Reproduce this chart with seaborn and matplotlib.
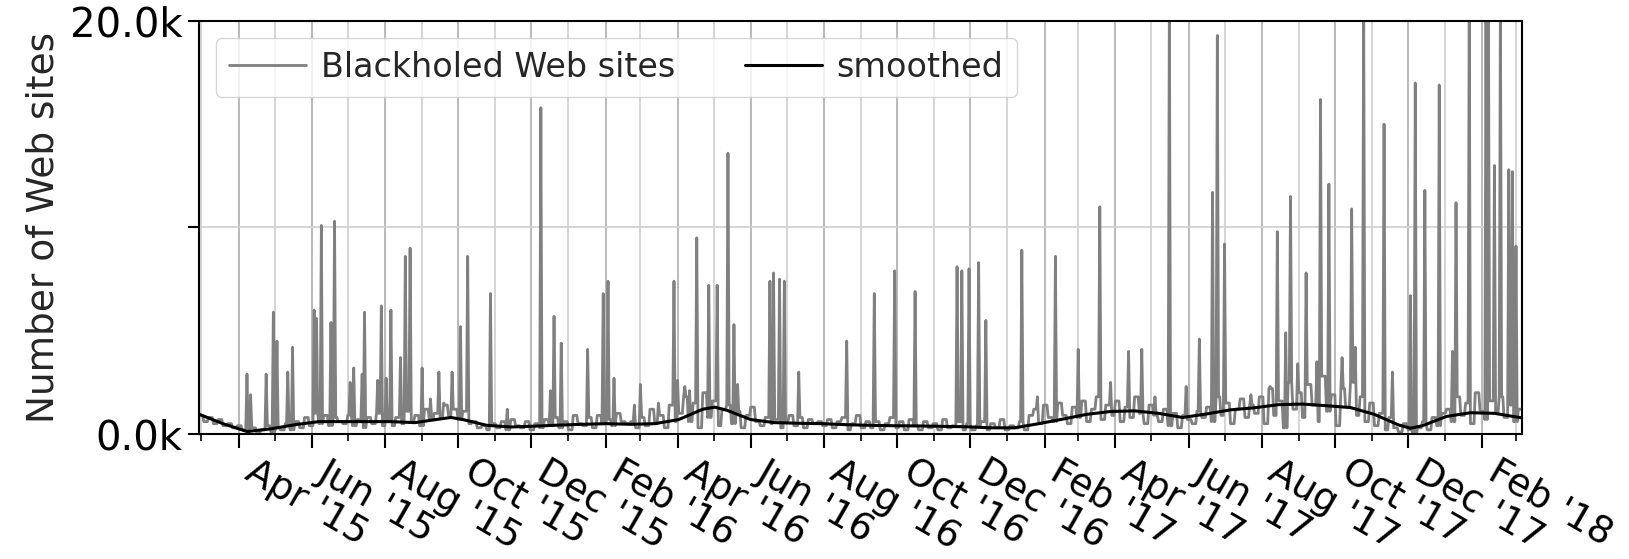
import numpy as np
import pandas as pd
import matplotlib
matplotlib.use("Agg")
import matplotlib.pyplot as plt
import matplotlib.dates as mdates
from matplotlib.ticker import FixedLocator, FixedFormatter
import seaborn as sns

# ---------------- data ----------------
start_date = "2015-02-27"
n_days = 1104          # 2015-02-27 .. 2018-03-06
base_step = 4          # baseline estimated every 4 days (hundreds of sites)
baseline_hundreds = [
    9, 6, 8, 5, 7, 4, 5, 3, 4, 2,
    1, 3, 1, 2, 4, 1, 3, 2, 5, 2,
    6, 3, 8, 4, 10, 5, 9, 4, 8, 6,
    5, 9, 4, 7, 3, 8, 5, 10, 4, 7,
    4, 8, 5, 11, 6, 9, 4, 12, 7, 10,
    8, 14, 9, 12, 7, 11, 5, 6, 3, 4,
    2, 5, 3, 6, 2, 7, 4, 3, 6, 2,
    5, 3, 7, 4, 8, 3, 6, 2, 9, 5,
    4, 8, 3, 9, 5, 7, 4, 10, 6, 5,
    6, 3, 8, 4, 12, 5, 9, 3, 14, 6,
    10, 18, 6, 15, 3, 20, 8, 16, 4, 12,
    14, 5, 11, 3, 9, 13, 6, 4, 8, 5,
    7, 3, 6, 9, 4, 8, 3, 7, 5, 6,
    4, 7, 3, 6, 8, 2, 5, 9, 3, 6,
    3, 6, 2, 5, 8, 3, 6, 2, 7, 4,
    2, 6, 3, 5, 2, 7, 3, 4, 6, 2,
    5, 2, 4, 6, 2, 5, 3, 7, 2, 4,
    3, 6, 2, 9, 12, 5, 14, 8, 6, 15,
    9, 5, 13, 8, 16, 6, 12, 18, 7, 14,
    9, 16, 6, 13, 8, 18, 10, 5, 14, 9,
    6, 12, 4, 10, 3, 9, 7, 5, 11, 8,
    13, 6, 18, 9, 15, 5, 12, 17, 8, 14,
    10, 18, 5, 22, 9, 16, 3, 25, 12, 20,
    8, 24, 14, 6, 28, 11, 19, 4, 22, 13,
    25, 9, 18, 6, 15, 4, 10, 2, 8, 3,
    1, 5, 2, 0, 3, 6, 2, 8, 4, 10,
    12, 6, 18, 9, 15, 5, 20, 11, 7, 16,
    10, 18, 8, 14, 6, 12,
]
spike_days = [40, 43, 56, 62, 65, 74, 78, 96, 98, 102, 110, 113, 126, 129, 136, 138,
              149, 152, 156, 160, 168, 172, 176, 186, 193, 200, 204, 211, 218, 224,
              243, 257, 285, 293, 296, 302, 324, 337, 341, 346, 363, 368, 383, 396,
              399, 405, 409, 415, 425, 432, 441, 446, 449, 476, 479, 484, 488, 500,
              540, 563, 580, 597, 632, 636, 642, 650, 656, 686, 699, 714, 733, 751,
              760, 775, 786, 797, 809, 823, 834, 845, 849, 855, 877, 893, 899, 906,
              910, 916, 923, 932, 935, 942, 953, 961, 964, 971, 988, 995, 1010, 1014,
              1022, 1034, 1045, 1048, 1059, 1073, 1075, 1080, 1085, 1092, 1095, 1098]
spike_k = [2.9, 1.9, 2.9, 5.9, 4.5, 3.0, 4.2, 6.0, 5.6, 10.1, 5.4, 10.3, 2.5, 3.2, 2.9, 5.9,
           2.6, 6.2, 2.7, 6.0, 3.7, 8.6, 9.0, 3.2, 1.7, 3.0, 1.5, 3.0, 5.2, 8.6,
           6.8, 1.2, 15.8, 2.1, 5.7, 4.4, 4.1, 6.8, 7.4, 2.7, 1.4, 2.4, 1.5, 7.4,
           2.6, 2.3, 2.1, 9.5, 7.2, 7.2, 13.6, 5.3, 2.4, 7.4, 7.8, 7.5, 7.4, 3.0,
           4.5, 6.8, 7.9, 6.9, 8.1, 7.9, 8.0, 8.3, 5.5, 8.9, 1.8, 8.6, 4.1, 11.0,
           2.5, 4.0, 4.1, 1.8, 21.0, 2.3, 4.6, 11.7, 19.3, 9.2, 1.9, 2.3, 9.8, 4.9,
           11.5, 3.4, 7.8, 3.5, 16.2, 12.1, 3.7, 10.9, 4.2, 21.0, 15.0, 3.0, 6.7, 17.0,
           11.8, 16.9, 4.0, 11.2, 21.0, 21.0, 21.0, 13.0, 21.0, 12.8, 12.7, 9.1]
smooth_days = [0, 20, 40, 60, 80, 100, 120, 140, 160, 180, 200, 210, 220, 240, 260, 280,
               300, 320, 340, 360, 380, 400, 420, 430, 440, 460, 480, 500, 520, 540, 560,
               580, 600, 620, 640, 660, 680, 700, 720, 740, 760, 780, 800, 820, 840, 860,
               880, 900, 920, 940, 960, 980, 1000, 1010, 1020, 1040, 1060, 1080, 1103]
smooth_k = [0.96, 0.5, 0.12, 0.25, 0.45, 0.6, 0.6, 0.6, 0.6, 0.55, 0.72, 0.8, 0.7, 0.42, 0.34, 0.38,
            0.43, 0.47, 0.5, 0.47, 0.5, 0.7, 1.2, 1.3, 1.15, 0.7, 0.55, 0.52, 0.5, 0.45, 0.42,
            0.4, 0.39, 0.37, 0.35, 0.3, 0.3, 0.5, 0.72, 0.95, 1.09, 1.12, 1.0, 0.8, 0.97, 1.17,
            1.27, 1.42, 1.45, 1.37, 1.28, 0.95, 0.44, 0.28, 0.4, 0.85, 1.03, 1.0, 0.78]
ytick_values = [0, 10000, 20000]
ytick_labels = ["0.0k", "", "20.0k"]
series_labels = ["Blackholed Web sites", "smoothed"]
y_label = "Number of Web sites"

# ---------------- build tables ----------------
start = pd.Timestamp(start_date)
daily = np.repeat(np.array(baseline_hundreds, dtype=float) * 100.0, base_step)[:n_days]
daily[np.array(spike_days)] = np.array(spike_k) * 1000.0
df = pd.DataFrame({"date": start + pd.to_timedelta(np.arange(len(daily)), unit="D"), "sites": daily})
sm = pd.DataFrame({"date": start + pd.to_timedelta(smooth_days, unit="D"),
                   "smoothed": np.array(smooth_k) * 1000.0})

# ---------------- style ----------------
sns.set_style("whitegrid", {"axes.edgecolor": "black", "axes.linewidth": 1.5,
                            "xtick.bottom": True, "ytick.left": True,
                            "xtick.color": "black", "ytick.color": "black"})
plt.rcParams["font.family"] = ["DejaVu Sans"]

fig = plt.figure(figsize=(16.29, 5.59), dpi=100)
ax = fig.add_axes([199 / 1629, 1 - 434 / 559, (1522 - 199) / 1629, (434 - 21) / 559])

sns.lineplot(data=df, x="date", y="sites", color="#808080", lw=2.0, estimator=None,
             label=series_labels[0], ax=ax)
sns.lineplot(data=sm, x="date", y="smoothed", color="black", lw=2.2, estimator=None,
             label=series_labels[1], ax=ax)

ax.set_xlim(start, start + pd.Timedelta(days=n_days - 1))
ax.set_ylim(0, 20000)
ax.yaxis.set_major_locator(FixedLocator(ytick_values))
ax.yaxis.set_major_formatter(FixedFormatter(ytick_labels))

ax.xaxis.set_major_locator(mdates.MonthLocator(bymonth=[2, 4, 6, 8, 10, 12]))
ax.xaxis.set_minor_locator(mdates.MonthLocator())
ax.xaxis.set_major_formatter(mdates.DateFormatter("%b '%y"))

ax.grid(which="major", axis="x", color="#b4b4b4", lw=1.3)
ax.grid(which="minor", axis="x", color="#d2d2d2", lw=1.3)
ax.grid(which="major", axis="y", color="#d2d2d2", lw=1.3)
ax.set_axisbelow(True)

ax.tick_params(axis="x", which="major", length=10, width=1.5, labelsize=27, pad=4)
ax.tick_params(axis="x", which="minor", length=5, width=1.2)
ax.tick_params(axis="y", which="major", length=8, width=1.5, labelsize=29, pad=4)
for lab in ax.get_xticklabels():
    lab.set_rotation(-30)
    lab.set_ha("left")

ax.set_xlabel("")
ax.set_ylabel(y_label, fontsize=27, labelpad=6)
for sp in ax.spines.values():
    sp.set_color("black")
    sp.set_linewidth(1.5)

leg = ax.legend(loc="upper left", ncol=2, fontsize=24, handlelength=2.3,
                handletextpad=0.45, columnspacing=2.1, frameon=True, fancybox=True,
                framealpha=0.8, borderaxespad=0.5)
leg.get_frame().set_edgecolor("#cccccc")

fig.savefig("out.png", dpi=100)
